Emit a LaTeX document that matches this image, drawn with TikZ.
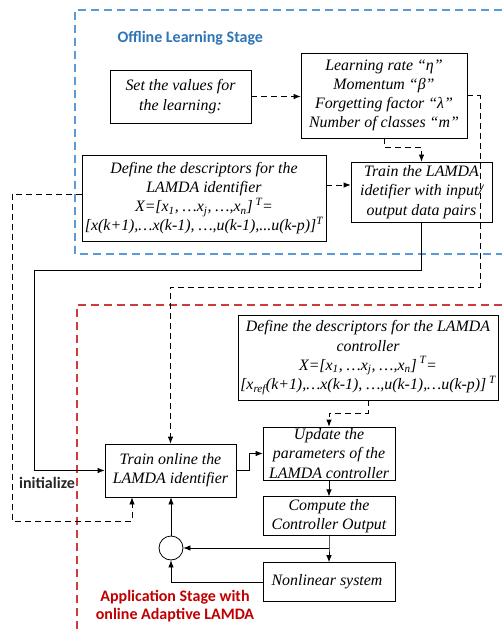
\documentclass[tikz,border=0pt]{standalone}
\usepackage{fontspec}
\setmainfont{Liberation Serif}
\newfontfamily\labelfont{Carlito}
\usetikzlibrary{arrows.meta, positioning, calc}
\definecolor{offblue}{RGB}{91, 155, 213}
\definecolor{titleblue}{RGB}{46, 117, 182}
\definecolor{appred}{RGB}{192, 0, 0}
\definecolor{redline}{RGB}{205, 60, 60}

\begin{document}
\begin{tikzpicture}[x=1pt, y=-1pt,
    box/.style={rectangle, draw=black, line width=0.8pt, fill=white, align=center, inner sep=1pt, font=\itshape\fontsize{15.9}{19.2}\selectfont},
    sumnode/.style={circle, draw=black, line width=0.8pt, minimum size=24pt, inner sep=0pt},
    arrow/.style={-{Latex[length=7pt, width=5.5pt]}, line width=0.8pt},
    dasharrow/.style={arrow, dash pattern=on 6pt off 4pt},
    stagebox/.style={line width=1.3pt, dash pattern=on 8pt off 5pt},
    stagelabel/.style={font=\labelfont\bfseries\fontsize{16}{18.5}\selectfont, align=center}
]
    \useasboundingbox (0,0) rectangle (502,630);

    % Stages
    \draw[stagebox, draw=offblue] (502,10) -- (75,10) -- (75,254) -- (502,254);
    \draw[stagebox, draw=redline] (502,305) -- (77,305) -- (77,630);
    \node[stagelabel, text=titleblue, anchor=west] (offtitle) at (114,38) {Offline Learning Stage};
    \node[stagelabel, text=appred] (apptitle) at (175,606) {Application Stage with\\online Adaptive LAMDA};

    % Offline blocks
    \node[box, minimum width=141pt, minimum height=53pt] (setval) at (180.5,96.5) {
        Set the values for\\the learning:
    };
    \node[box, minimum width=166pt, minimum height=85pt] (params) at (384,95.5) {
        Learning rate “η”\\
        Momentum “β”\\
        Forgetting factor “λ”\\
        Number of classes “m”
    };
    \node[box, minimum width=244pt, minimum height=86pt] (defid) at (204,198) {
        Define the descriptors for the\\
        LAMDA identifier\\
        X={[}x\textsubscript{1}, …x\textsubscript{j}, …,x\textsubscript{n}{]}\,\textsuperscript{T}=\\
        {[}x(k+1),…x(k-1), …,u(k-1),...u(k-p){]}\textsuperscript{T}
    };
    \node[box, minimum width=141pt, minimum height=60pt] (trainoff) at (421.5,192) {
        Train the LAMDA\\
        idetifier with input/\\
        output data pairs
    };

    % Application blocks
    \node[box, minimum width=260pt, minimum height=85pt] (defctrl) at (368,357.5) {
        Define the descriptors for the LAMDA\\
        controller\\
        X={[}x\textsubscript{1}, …x\textsubscript{j}, …,x\textsubscript{n}{]}\,\textsuperscript{T}=\\
        {[}x\textsubscript{ref}(k+1),…x(k-1), …,u(k-1),…u(k-p){]}\,\textsuperscript{T}
    };
    \node[box, minimum width=132pt, minimum height=53pt] (update) at (329,453.5) {
        Update the\\
        parameters of the\\
        LAMDA controller
    };
    \node[box, minimum width=131pt, minimum height=53pt] (trainon) at (170.5,470.5) {
        Train online the\\
        LAMDA identifier
    };
    \node[box, minimum width=132pt, minimum height=39pt, below=16pt of update] (compute) {
        Compute the\\
        Controller Output
    };
    \node[box, minimum width=132pt, minimum height=39pt, below=26pt of compute] (nonlin) {
        Nonlinear system
    };
    \node[sumnode] (sum) at (171,548) {};

    % Connections
    \coordinate (rightdrop) at (480,287);
    \coordinate (leftloop) at (12,521);
    \coordinate (solidleft) at (34,270);
    \coordinate (ctrlbend) at (368,413);
    \coordinate (trainin) at ([yshift=7pt]trainoff.west);
    \coordinate (branch) at (compute.south |- sum);
    \draw[dasharrow] (setval.east) -- (setval.east -| params.west);
    \draw[dasharrow] (params.south) -- ++(0,9) -| (trainoff.north);
    \draw[dasharrow] (params.east) -| (rightdrop) -| (trainon.north);
    \draw[dasharrow] (defid.east |- trainin) -- (trainin);
    \draw[dasharrow] ([yshift=4pt]defid.west) -| (leftloop) -| ([xshift=-38.5pt]trainon.south);
    \draw[arrow] (trainoff.south) |- (solidleft) |- (trainon.west);
    \node[stagelabel, text=black!85] (initlabel) at (47,483) {initialize};
    \draw[dasharrow] (defctrl.south) -- (ctrlbend) -| (update.north);
    \draw[arrow] (trainon.east) -- ++(13,0) |- (update.west);
    \draw[arrow] (update) -- (compute);
    \draw[arrow] (compute.south) -- (branch) -- (nonlin.north);
    \draw[arrow] (branch) -- (sum.east);
    \draw[arrow] (nonlin.west) -| (sum.south);
    \draw[arrow] (sum.north) -- (sum.north |- trainon.south);
\end{tikzpicture}
\end{document}
